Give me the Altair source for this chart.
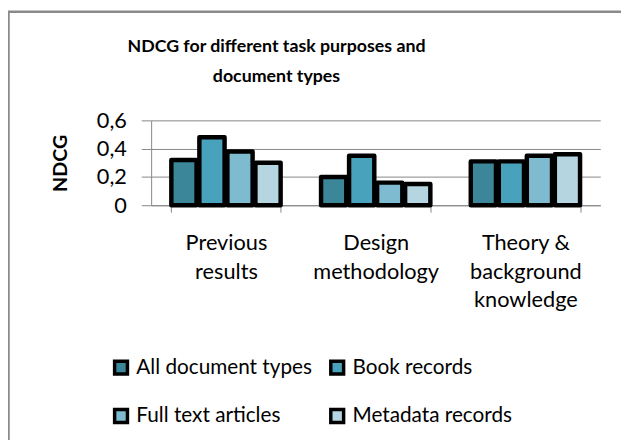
import altair as alt
import pandas as pd

categories = ["Previous\nresults", "Design\nmethodology", "Theory &\nbackground\nknowledge"]
series = ["All document types", "Book records", "Full text articles", "Metadata records"]
values = {
    "All document types": [0.32, 0.20, 0.31],
    "Book records": [0.48, 0.35, 0.31],
    "Full text articles": [0.38, 0.16, 0.35],
    "Metadata records": [0.30, 0.15, 0.36],
}
colors = ["#3b8799", "#48a2bb", "#7ebbd0", "#b5d5e0"]
y_ticks = [0, 0.2, 0.4, 0.6]
title_lines = ["NDCG for different task purposes and", "document types"]

rows = []
for s in series:
    for c, v in zip(categories, values[s]):
        rows.append({"category": c, "series": s, "value": v})
df = pd.DataFrame(rows)

FONT = "Lato"
GRAY = "#868686"
W, H = 455, 86

bars = alt.Chart(df).mark_bar(
    stroke="black", strokeWidth=4.5, strokeJoin="round"
).encode(
    x=alt.X("category:N", sort=categories, title=None,
            scale=alt.Scale(paddingInner=0.27, paddingOuter=0.135),
            axis=alt.Axis(labelAngle=0, labelExpr="split(datum.label, '\\n')",
                          labelLineHeight=29, labelFontSize=22, labelFont=FONT,
                          labelColor="black", labelPadding=21, labelBaseline="top",
                          tickBand="extent", tickSize=7, tickColor=GRAY,
                          domainColor=GRAY, grid=False)),
    xOffset=alt.XOffset("series:N", sort=series,
                        scale=alt.Scale(paddingInner=0.1, paddingOuter=0)),
    y=alt.Y("value:Q", title="NDCG",
            scale=alt.Scale(domain=[0, 0.6], nice=False),
            axis=alt.Axis(values=y_ticks,
                          labelExpr="datum.value == 0 ? '0' : replace(format(datum.value, '.1f'), '.', ',')",
                          labelFontSize=22, labelFont=FONT, labelColor="black",
                          labelPadding=15, tickSize=10, tickColor=GRAY,
                          domainColor=GRAY, gridColor=GRAY,
                          titleFont=FONT, titleFontSize=20, titleFontWeight="bold",
                          titleColor="black", titlePadding=26)),
    color=alt.Color("series:N", sort=series,
                    scale=alt.Scale(domain=series, range=colors),
                    legend=alt.Legend(title=None, orient="none", legendX=-41, legendY=240,
                                      columns=2, direction="horizontal",
                                      symbolType="square", symbolSize=169,
                                      symbolStrokeColor="black", symbolStrokeWidth=3.5,
                                      labelFont=FONT, labelFontSize=21, labelColor="black",
                                      labelLimit=400, labelOffset=5,
                                      columnPadding=11, rowPadding=22, gridAlign="all")),
)

border = alt.Chart(pd.DataFrame({"b": [0]})).mark_rect(
    fill=None, stroke="#8a8a8a", strokeWidth=2.5
).encode(
    x=alt.value(-144.5), x2=alt.value(W + 100),
    y=alt.value(-110), y2=alt.value(H + 400),
)

title_df = pd.DataFrame({"line": title_lines, "idx": [0, 1]})
title = alt.Chart(title_df).mark_text(
    font=FONT, fontSize=18, fontWeight="bold", color="black",
    align="center", baseline="middle",
).encode(
    x=alt.value(127),
    y=alt.Y("idx:Q", scale=alt.Scale(domain=[0, 1], range=[-74, -44]), axis=None),
    text="line:N",
)

chart = alt.layer(border, bars, title).resolve_scale(y="independent").properties(
    width=W, height=H,
    autosize=alt.AutoSizeParams(type="none"),
    padding={"left": 145, "top": 111, "right": 21, "bottom": 235},
).configure_view(stroke=None)

chart.save("out.html", embed_options={"renderer": "svg", "actions": False})
